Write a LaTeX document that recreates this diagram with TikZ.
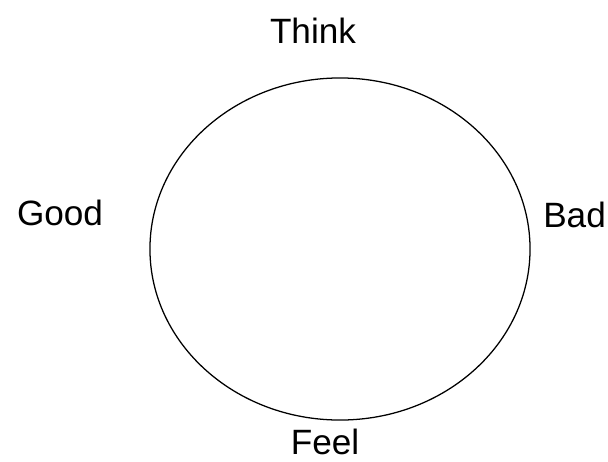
\documentclass[tikz,border=0pt]{standalone}
\usepackage{fontspec}
\setmainfont{Liberation Sans}
\usepackage{tikz}
\usetikzlibrary{shapes.geometric,positioning}

\tikzset{
  word/.style={font=\fontsize{25}{30}\selectfont,anchor=base,inner sep=0pt},
  ring/.style={draw,ellipse,line width=0.9pt,minimum width=9.5cm,minimum height=8.55cm}
}

\begin{document}
\begin{tikzpicture}[x=0.025cm,y=-0.025cm]
  \useasboundingbox (0,0) rectangle (608,462);
  \node[ring] (cycle) at (340,249) {};
  \node[word] (think) at (313,43) {Think};
  \node[word] (good) at (60,225) {Good};
  \node[word,anchor=base west] (bad) at (543,227) {Bad};
  \node[word] (feel) at (325,454) {Feel};
\end{tikzpicture}
\end{document}
